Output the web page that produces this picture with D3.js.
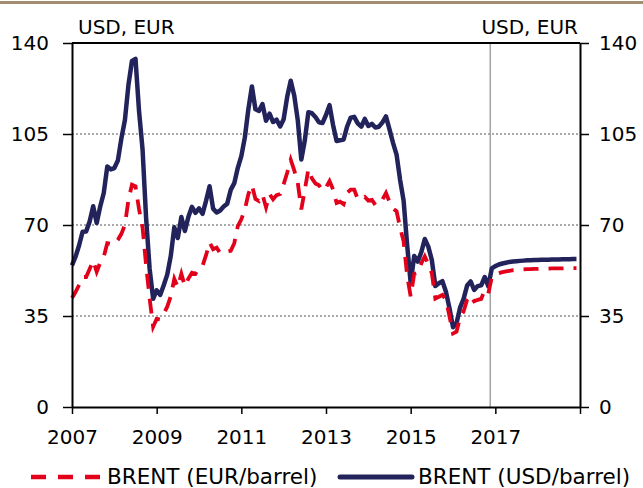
<!DOCTYPE html>
<html lang="en">
<head>
    <meta charset="utf-8" />
    <title>Brent oil price, USD and EUR</title>
    <script src="https://d3js.org/d3.v7.min.js"></script>
    <style>
        body {
            margin: 0;
            background: #fff;
        }

        svg text {
            font-family: "DejaVu Sans", sans-serif;
            fill: #000;
        }

        .axis text {
            font-size: 20px;
        }

        .axis path,
        .axis line {
            stroke: #000;
        }

        .grid line {
            stroke: #555;
            stroke-width: 1;
            stroke-dasharray: 2, 2;
        }
    </style>
</head>

<body>
    <div id="chart"></div>
    <script>
        // monthly averages, Jan 2007 .. Dec 2018 (2017-2018 is the forecast part)
        var startYear = 2007;
        var forecastFrom = 2016.88;

        var usdValues = [
            54.5, 57.8, 62.1, 67.4, 67.5, 71.3, 77.2, 70.8, 77.1, 82.3, 92.5, 91.4,
            91.9, 94.8, 103.3, 110.4, 123.9, 133.1, 133.9, 113.9, 99.1, 72.8, 53.2, 41.6,
            44.9, 43.1, 46.8, 50.9, 58.1, 69.1, 65.0, 73.1, 67.7, 73.2, 77.0, 74.7,
            76.4, 74.3, 79.3, 84.9, 76.3, 74.8, 75.6, 77.1, 78.2, 83.5, 86.1, 92.0,
            96.5, 103.7, 114.6, 123.3, 114.5, 113.9, 116.5, 110.1, 112.8, 109.6, 110.5, 107.9,
            110.7, 119.3, 125.5, 119.8, 110.3, 95.2, 102.6, 113.4, 113.0, 111.5, 109.5, 109.2,
            112.3, 116.1, 108.5, 102.3, 102.6, 102.9, 107.9, 111.3, 111.6, 109.1, 107.8, 110.8,
            108.1, 108.9, 107.5, 107.8, 109.5, 111.8, 106.8, 101.6, 97.1, 87.4, 79.4, 62.3,
            47.8, 58.1, 55.9, 59.5, 64.6, 61.7, 56.5, 46.5, 47.6, 48.4, 44.3, 38.0,
            30.7, 32.2, 38.2, 41.6, 46.7, 48.3, 45.0, 46.5, 46.8, 50.0, 46.5, 53.3,
            54.2, 54.8, 55.2, 55.5, 55.8, 56.0, 56.1, 56.2, 56.3, 56.4, 56.4, 56.5,
            56.5, 56.6, 56.6, 56.6, 56.7, 56.7, 56.7, 56.8, 56.8, 56.8, 56.9, 56.9
        ];

        var eurValues = [
            41.9, 44.2, 46.9, 50.0, 50.0, 53.1, 56.3, 52.0, 55.5, 57.8, 63.0, 62.8,
            62.5, 64.3, 66.6, 70.1, 79.6, 85.5, 84.9, 76.1, 69.0, 54.6, 41.8, 30.9,
            33.9, 33.7, 35.9, 38.6, 42.6, 49.3, 46.1, 51.2, 46.5, 49.4, 51.6, 51.2,
            53.5, 54.3, 58.4, 63.3, 60.7, 61.3, 59.2, 59.8, 59.8, 60.1, 63.0, 69.6,
            72.2, 76.0, 81.9, 85.3, 80.0, 79.2, 81.7, 76.8, 81.9, 79.9, 81.5, 81.9,
            85.7, 90.1, 95.1, 91.0, 86.2, 76.0, 83.5, 91.5, 87.9, 86.0, 85.3, 83.2,
            84.4, 86.9, 83.7, 78.5, 79.0, 78.0, 82.4, 83.6, 83.6, 80.0, 79.9, 80.8,
            79.4, 79.7, 77.7, 78.1, 79.8, 82.3, 78.9, 76.3, 75.3, 69.0, 63.7, 50.5,
            42.5, 51.2, 51.6, 55.2, 57.9, 55.0, 51.4, 41.7, 42.4, 43.1, 41.3, 34.9,
            28.3, 29.0, 34.4, 36.7, 41.3, 43.0, 40.6, 41.2, 41.6, 45.0, 43.5, 50.0,
            51.0, 51.5, 51.9, 52.2, 52.4, 52.6, 52.7, 52.8, 52.9, 53.0, 53.0, 53.1,
            53.1, 53.2, 53.2, 53.2, 53.3, 53.3, 53.3, 53.3, 53.4, 53.4, 53.4, 53.4
        ];

        var yearTicks = [2007, 2009, 2011, 2013, 2015, 2017, 2019];
        var yearLabels = ['2007', '2009', '2011', '2013', '2015', '2017', ''];
        var valueTicks = [0, 35, 70, 105, 140];
        var unitLabel = 'USD, EUR';
        var legendNames = ['BRENT (EUR/barrel)', 'BRENT (USD/barrel)'];

        (function(d3) {
            'use strict';

            var width = 643;
            var height = 488;
            var plotLeft = 72, plotRight = 580, plotTop = 43, plotBottom = 407;

            var svg = d3.select('#chart')
                .append('svg')
                .attr('width', width)
                .attr('height', height);

            var x = d3.scaleLinear().domain([2007, 2019]).range([plotLeft, plotRight]);
            var y = d3.scaleLinear().domain([0, 140]).range([plotBottom, plotTop]);

            // thin rule at the very top
            svg.append('line')
                .attr('x1', 0).attr('x2', width)
                .attr('y1', 2.5).attr('y2', 2.5)
                .attr('stroke', '#a38f70')
                .attr('stroke-width', 3);

            // dotted grid
            svg.append('g')
                .attr('class', 'grid')
                .selectAll('line')
                .data(valueTicks.filter(function(d) { return d > 0 && d < 140; }))
                .enter()
                .append('line')
                .attr('x1', plotLeft).attr('x2', plotRight)
                .attr('y1', function(d) { return y(d); })
                .attr('y2', function(d) { return y(d); });

            // forecast divider
            svg.append('line')
                .attr('x1', x(forecastFrom)).attr('x2', x(forecastFrom))
                .attr('y1', plotTop).attr('y2', plotBottom)
                .attr('stroke', '#a6a6a6')
                .attr('stroke-width', 1.6);

            function pt(d, i) {
                return { t: startYear + i / 12, v: d };
            }

            var line = d3.line()
                .x(function(d) { return x(d.t); })
                .y(function(d) { return y(d.v); });

            svg.append('path')
                .datum(usdValues.map(pt))
                .attr('d', line)
                .attr('fill', 'none')
                .attr('stroke', '#22235b')
                .attr('stroke-width', 4.5)
                .attr('stroke-linejoin', 'round');

            svg.append('path')
                .datum(eurValues.map(pt))
                .attr('d', line)
                .attr('fill', 'none')
                .attr('stroke', '#e3001b')
                .attr('stroke-width', 3.8)
                .attr('stroke-dasharray', '15,10');

            // frame top
            svg.append('line')
                .attr('x1', plotLeft).attr('x2', plotRight)
                .attr('y1', plotTop).attr('y2', plotTop)
                .attr('stroke', '#000')
                .attr('stroke-width', 2);

            function styleAxis(g) {
                g.select('.domain').attr('stroke-width', 2);
                g.selectAll('.tick line').attr('stroke-width', 1.5);
            }

            svg.append('g')
                .attr('class', 'axis')
                .attr('transform', 'translate(' + plotLeft + ',0)')
                .call(d3.axisLeft(y).tickValues(valueTicks).tickSize(9).tickSizeOuter(0).tickPadding(14))
                .call(styleAxis);

            svg.append('g')
                .attr('class', 'axis')
                .attr('transform', 'translate(' + plotRight + ',0)')
                .call(d3.axisRight(y).tickValues(valueTicks).tickSize(9).tickSizeOuter(0).tickPadding(10))
                .call(styleAxis);

            svg.append('g')
                .attr('class', 'axis')
                .attr('transform', 'translate(0,' + plotBottom + ')')
                .call(d3.axisBottom(x).tickValues(yearTicks).tickSize(7).tickSizeOuter(0).tickPadding(16)
                    .tickFormat(function(d, i) { return yearLabels[i]; }))
                .call(styleAxis);

            svg.append('text')
                .attr('x', 78)
                .attr('y', 33.5)
                .style('font-size', '20px')
                .text(unitLabel);

            svg.append('text')
                .attr('x', 578)
                .attr('y', 33.5)
                .attr('text-anchor', 'end')
                .style('font-size', '20px')
                .text(unitLabel);

            // legend
            var legend = svg.append('g').attr('class', 'legend');

            legend.append('line')
                .attr('x1', 31).attr('x2', 100)
                .attr('y1', 477).attr('y2', 477)
                .attr('stroke', '#e3001b')
                .attr('stroke-width', 4.5)
                .attr('stroke-dasharray', '15,12');

            legend.append('text')
                .attr('x', 107)
                .attr('y', 484)
                .style('font-size', '21.5px')
                .text(legendNames[0]);

            legend.append('line')
                .attr('x1', 340).attr('x2', 412)
                .attr('y1', 477).attr('y2', 477)
                .attr('stroke', '#22235b')
                .attr('stroke-width', 5)
                .attr('stroke-linecap', 'round');

            legend.append('text')
                .attr('x', 418)
                .attr('y', 484)
                .style('font-size', '21.5px')
                .text(legendNames[1]);
        })(window.d3);
    </script>
</body>
</html>
